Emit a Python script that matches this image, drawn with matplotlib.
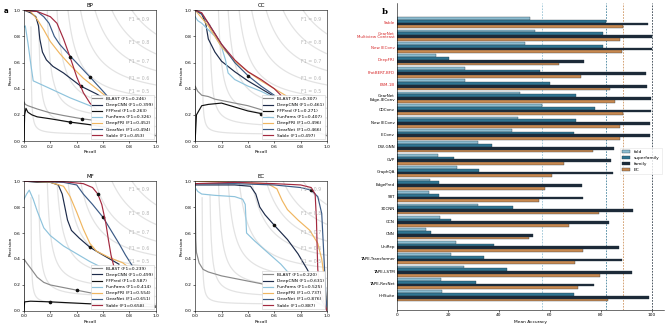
import numpy as np
import matplotlib
matplotlib.use("Agg")
import matplotlib.pyplot as plt

# ---------------- PR curve data (recall, precision) ----------------
methods = ["BLAST", "DeepCNN", "FFPred", "FunFams", "DeepFRI", "GearNet", "Sable"]
colors = {"BLAST": "#8a8a8a", "DeepCNN": "#1d2b4a", "FFPred": "#111111",
          "FunFams": "#8ec3dc", "DeepFRI": "#f0b660", "GearNet": "#3b5a85",
          "Sable": "#a3293f"}

bp_f1 = [0.246, 0.399, 0.263, 0.326, 0.452, 0.494, 0.453]
cc_f1 = [0.307, 0.461, 0.271, 0.407, 0.496, 0.466, 0.497]
mf_f1 = [0.239, 0.499, 0.587, 0.414, 0.554, 0.651, 0.658]
ec_f1 = [0.220, 0.631, None, 0.525, 0.737, 0.876, 0.887]

bp_blast = [(0, 0), (0, 0.30), (0.01, 0.28), (0.03, 0.27), (0.1, 0.245), (0.2, 0.215), (0.3, 0.195),
            (0.44, 0.17), (0.6, 0.15), (0.75, 0.12), (0.9, 0.08), (1.0, 0.04)]
bp_deepcnn = [(0, 1), (0.05, 0.98), (0.09, 0.95), (0.11, 0.88), (0.12, 0.78), (0.14, 0.68), (0.17, 0.62),
              (0.22, 0.57), (0.3, 0.52), (0.43, 0.42), (0.55, 0.36), (0.65, 0.3)]
bp_ffpred = [(0, 0), (0.005, 0.2), (0.015, 0.25), (0.03, 0.22), (0.06, 0.2), (0.1, 0.185), (0.2, 0.17),
             (0.35, 0.145), (0.5, 0.125), (0.65, 0.1)]
bp_funfams = [(0, 0.87), (0.01, 0.88), (0.03, 0.75), (0.05, 0.6), (0.07, 0.46), (0.2, 0.4), (0.35, 0.33),
              (0.5, 0.27), (0.6, 0.22)]
bp_deepfri = [(0, 1), (0.05, 0.99), (0.1, 0.93), (0.15, 0.85), (0.2, 0.76), (0.27, 0.67), (0.35, 0.58),
              (0.45, 0.48), (0.55, 0.4), (0.65, 0.32)]
bp_gearnet = [(0, 1), (0.1, 0.99), (0.15, 0.95), (0.19, 0.9), (0.23, 0.8), (0.27, 0.74), (0.35, 0.65),
              (0.5, 0.49), (0.6, 0.38), (0.67, 0.3)]
bp_sable = [(0, 1), (0.1, 0.99), (0.2, 0.95), (0.25, 0.9), (0.3, 0.78), (0.35, 0.64), (0.4, 0.49),
            (0.45, 0.37), (0.5, 0.29), (0.55, 0.24)]

cc_blast = [(0, 0), (0, 0.42), (0.02, 0.38), (0.05, 0.35), (0.1, 0.34), (0.15, 0.32), (0.2, 0.31),
            (0.3, 0.29), (0.4, 0.27), (0.5, 0.24), (0.6, 0.2), (0.8, 0.12), (1.0, 0.04)]
cc_deepcnn = [(0, 1), (0.05, 0.97), (0.08, 0.9), (0.1, 0.78), (0.15, 0.68), (0.2, 0.61), (0.3, 0.53),
              (0.4, 0.46), (0.5, 0.4), (0.6, 0.34)]
cc_ffpred = [(0, 0), (0.01, 0.2), (0.05, 0.27), (0.1, 0.28), (0.2, 0.29), (0.3, 0.26), (0.4, 0.23),
             (0.5, 0.21), (0.6, 0.17), (0.7, 0.13)]
cc_funfams = [(0, 0.95), (0.02, 0.92), (0.05, 0.9), (0.1, 0.85), (0.15, 0.8), (0.2, 0.72), (0.23, 0.62),
              (0.25, 0.52), (0.3, 0.47), (0.4, 0.42), (0.5, 0.38), (0.6, 0.33)]
cc_deepfri = [(0, 1), (0.1, 0.88), (0.2, 0.72), (0.3, 0.61), (0.4, 0.53), (0.5, 0.46), (0.6, 0.4),
              (0.7, 0.34), (0.75, 0.3)]
cc_gearnet = [(0, 1), (0.05, 0.97), (0.1, 0.9), (0.15, 0.82), (0.2, 0.74), (0.3, 0.6), (0.4, 0.5),
              (0.5, 0.42), (0.6, 0.35)]
cc_sable = [(0, 1), (0.05, 0.98), (0.1, 0.9), (0.2, 0.74), (0.3, 0.62), (0.4, 0.53), (0.5, 0.47),
            (0.6, 0.4), (0.65, 0.35)]

mf_blast = [(0, 0), (0, 0.4), (0.02, 0.37), (0.05, 0.33), (0.1, 0.26), (0.15, 0.22), (0.2, 0.2),
            (0.3, 0.18), (0.4, 0.16), (0.6, 0.12), (0.8, 0.08), (1.0, 0.04)]
mf_deepcnn = [(0, 1), (0.1, 0.99), (0.2, 0.99), (0.26, 0.97), (0.29, 0.9), (0.31, 0.8), (0.33, 0.7),
              (0.36, 0.62), (0.42, 0.56), (0.5, 0.49), (0.6, 0.43), (0.72, 0.36)]
mf_ffpred = [(0, 0), (0.005, 0.07), (0.05, 0.075), (0.2, 0.07), (0.4, 0.06), (0.6, 0.05), (0.8, 0.04),
             (1.0, 0.03)]
mf_funfams = [(0, 0.86), (0.02, 0.9), (0.04, 0.93), (0.07, 0.86), (0.1, 0.77), (0.15, 0.64), (0.2, 0.58),
              (0.3, 0.5), (0.4, 0.44), (0.5, 0.38), (0.6, 0.33), (0.7, 0.29), (0.8, 0.25)]
mf_deepfri = [(0, 1), (0.2, 0.99), (0.3, 0.96), (0.35, 0.88), (0.4, 0.76), (0.45, 0.63), (0.5, 0.52),
              (0.55, 0.46), (0.65, 0.41), (0.75, 0.37), (0.8, 0.33)]
mf_gearnet = [(0, 1), (0.3, 0.99), (0.4, 0.97), (0.45, 0.9), (0.52, 0.82), (0.6, 0.72), (0.66, 0.62),
              (0.72, 0.52), (0.77, 0.43), (0.82, 0.35)]
mf_sable = [(0, 1), (0.3, 0.995), (0.45, 0.98), (0.52, 0.95), (0.56, 0.9), (0.59, 0.82), (0.62, 0.68),
            (0.64, 0.55), (0.66, 0.43), (0.68, 0.35)]

ec_blast = [(0, 0.98), (0.005, 0.55), (0.01, 0.45), (0.03, 0.37), (0.06, 0.32), (0.1, 0.3), (0.2, 0.27),
            (0.3, 0.25), (0.4, 0.23), (0.5, 0.21), (0.6, 0.18), (0.7, 0.15), (0.8, 0.12), (0.9, 0.08),
            (1.0, 0.02)]
ec_deepcnn = [(0, 0.97), (0.1, 0.97), (0.3, 0.97), (0.42, 0.96), (0.46, 0.9), (0.49, 0.8), (0.53, 0.74),
              (0.6, 0.66), (0.7, 0.55), (0.78, 0.44), (0.85, 0.32), (0.9, 0.22), (0.95, 0.1), (1.0, 0.0)]
ec_funfams = [(0, 0.95), (0.02, 0.92), (0.05, 0.9), (0.15, 0.89), (0.3, 0.88), (0.36, 0.86), (0.38, 0.82),
              (0.39, 0.6), (0.45, 0.54), (0.55, 0.45), (0.65, 0.36), (0.72, 0.28), (0.75, 0.25)]
ec_deepfri = [(0, 1), (0.3, 0.99), (0.55, 0.98), (0.62, 0.94), (0.66, 0.85), (0.7, 0.78), (0.78, 0.7),
              (0.87, 0.62), (0.93, 0.52), (0.96, 0.4), (0.98, 0.25), (1.0, 0.0)]
ec_gearnet = [(0, 0.98), (0.3, 0.98), (0.6, 0.97), (0.8, 0.95), (0.88, 0.93), (0.93, 0.88), (0.96, 0.75),
              (0.97, 0.55), (0.98, 0.35), (0.99, 0.15), (1.0, 0.0)]
ec_sable = [(0, 0.98), (0.3, 0.99), (0.6, 0.98), (0.8, 0.97), (0.88, 0.95), (0.91, 0.9), (0.92, 0.7),
            (0.925, 0.5), (0.93, 0.32), (0.95, 0.15), (1.0, 0.0)]

# index of the point on each curve that carries the threshold dot (None = no dot)
bp_dot = [7, 9, 7, None, None, 7, 5]
cc_dot = [11, None, 7, None, None, 6, None]
mf_dot = [8, 9, 3, None, None, 5, 4]
ec_dot = [None, 7, None, None, None, 4, None]

# ---------------- bar chart data ----------------
bar_labels = ["Sable", "GearNet\nMultiview Contrast", "New IEConv", "DeepFRI", "ProtBERT-BFD", "ESM-1B",
              "GearNet\nEdge-IEConv", "CDConv", "New IEConv", "IEConv", "DW-GNN", "GVP", "GraphQA",
              "EdgePred", "SRT", "3DCNN", "GCN", "CNN", "UniRep", "TAPE-Transformer", "TAPE-LSTM",
              "TAPE-ResNet", "HHSuite"]
fold = [52.2, 54.2, 50.3, 15.2, 26.6, 26.8, 48.3, 56.8, 47.6, 45.0, 31.8, 16.0, 23.7, 13.0, 12.4, 31.8,
        16.9, 11.4, 23.0, 21.1, 26.3, 17.1, 17.5]
superfamily = [82.1, 80.8, 80.8, 20.5, 56.2, 60.2, 70.3, 77.7, 70.2, 69.6, 37.3, 22.4, 32.3, 16.5, 16.6,
               45.4, 21.3, 13.5, 38.1, 34.2, 43.1, 31.0, 69.4]
family = [98.4, 100.0, 100.0, 73.4, 97.8, 98.0, 99.7, 99.6, 99.3, 99.1, 85.2, 83.9, 84.6, 72.6, 72.9,
          92.7, 83.0, 53.4, 87.0, 88.2, 92.1, 77.2, 98.8]
ec = [88.6, 87.6, 88.2, 63.6, 72.3, 83.4, 85.5, 88.6, 87.6, 87.6, 76.8, 65.6, 60.7, 58.1, 55.8, 79.1,
      67.4, 51.7, 72.9, 69.9, 79.8, 70.9, 82.9]
n_red = 6

panels = [
    ("BP", [bp_blast, bp_deepcnn, bp_ffpred, bp_funfams, bp_deepfri, bp_gearnet, bp_sable], bp_f1, bp_dot),
    ("CC", [cc_blast, cc_deepcnn, cc_ffpred, cc_funfams, cc_deepfri, cc_gearnet, cc_sable], cc_f1, cc_dot),
    ("MF", [mf_blast, mf_deepcnn, mf_ffpred, mf_funfams, mf_deepfri, mf_gearnet, mf_sable], mf_f1, mf_dot),
    ("EC", [ec_blast, ec_deepcnn, None, ec_funfams, ec_deepfri, ec_gearnet, ec_sable], ec_f1, ec_dot),
]
positions = [[0.036, 0.570, 0.198, 0.399], [0.293, 0.570, 0.198, 0.399],
             [0.036, 0.052, 0.198, 0.396], [0.293, 0.052, 0.198, 0.396]]

fig = plt.figure(figsize=(6.66, 3.28), dpi=100)
fs = 3.2

for (title, curves, f1s, dots), pos in zip(panels, positions):
    ax = fig.add_axes(pos)
    # iso-F1 curves
    for f in np.arange(0.1, 1.0, 0.1):
        x = np.linspace(0.01, 1, 300)
        with np.errstate(divide="ignore", invalid="ignore"):
            y = f * x / (2 * x - f)
        keep = (2 * x - f > 0) & (y <= 1.05)
        ax.plot(x[keep], y[keep], color="gray", alpha=0.22, lw=0.9)
        if f > 0.45:
            yl = f * 0.9 / (1.8 - f)
            ax.text(0.8, yl + 0.02, "F1 = %.1f" % f, color="#b5b5b5", fontsize=3.4)
    for name, pts, f1, d in zip(methods, curves, f1s, dots):
        if pts is None:
            continue
        r = [p[0] for p in pts]
        p = [p[1] for p in pts]
        ax.plot(r, p, color=colors[name], lw=0.85, label="%s (F1=%.3f)" % (name, f1))
        if d is not None:
            ax.plot(r[d], p[d], "o", color="#111111", markersize=1.6)
    ax.set_xlim(0, 1)
    ax.set_ylim(0, 1)
    ax.set_xticks(np.arange(0, 1.01, 0.2))
    ax.set_yticks(np.arange(0, 1.01, 0.2))
    ax.tick_params(labelsize=fs, length=1.5, width=0.4, pad=1)
    for s in ax.spines.values():
        s.set_linewidth(0.4)
    ax.set_title(title, fontsize=4, pad=2)
    ax.set_xlabel("Recall", fontsize=fs, labelpad=1)
    ax.set_ylabel("Precision", fontsize=fs, labelpad=1)
    lgp = ax.legend(loc="lower right", fontsize=fs, frameon=True, framealpha=0.95, edgecolor="#cccccc",
                    handlelength=2.2, borderpad=0.35, labelspacing=0.45, fancybox=False,
                    borderaxespad=0.4)
    lgp.get_frame().set_linewidth(0.4)

fig.text(0.005, 0.975, "a", fontsize=5, fontweight="bold", va="top")
fig.text(0.573, 0.975, "b", fontsize=6, fontweight="bold", family="DejaVu Serif", va="top")

# ---------------- bar chart ----------------
axb = fig.add_axes([0.596, 0.055, 0.401, 0.936])
ypos = np.arange(len(bar_labels))
h = 0.22
bar_colors = ["#8cbcd0", "#2f7592", "#1c2a38", "#c98a50"]
series = [("fold", fold), ("superfamily", superfamily), ("family", family), ("EC", ec)]
for k, ((name, vals), c) in enumerate(zip(series, bar_colors)):
    axb.barh(ypos + (k - 1.5) * h, vals, height=h, color=c, edgecolor="#22333f", linewidth=0.25, label=name)
    axb.axvline(max(vals), color=c, lw=0.6, ls=(0, (2, 1.5)), alpha=0.9, zorder=0)
axb.set_ylim(len(bar_labels) - 1 + 1.13, -1.59)
axb.set_xlim(0, 104.7)
axb.set_yticks(ypos)
axb.set_yticklabels(bar_labels, fontsize=2.9, linespacing=0.95)
for i, t in enumerate(axb.get_yticklabels()):
    if i < n_red:
        t.set_color("#d62728")
axb.set_xticks(np.arange(0, 101, 20))
axb.tick_params(axis="x", labelsize=fs, length=1.5, width=0.4, pad=1)
axb.tick_params(axis="y", length=0, pad=1.5)
axb.set_xlabel("Mean Accuracy", fontsize=fs, labelpad=1.5)
for s in ["top", "right"]:
    axb.spines[s].set_visible(False)
for s in ["left", "bottom"]:
    axb.spines[s].set_linewidth(0.4)
lg = axb.legend(loc="upper right", bbox_to_anchor=(1.0, 0.535), fontsize=fs, frameon=True,
                edgecolor="#dddddd", fancybox=False, handlelength=1.8, borderpad=0.5, labelspacing=0.4)
lg.get_frame().set_linewidth(0.4)

fig.savefig("out.png", dpi=100)
